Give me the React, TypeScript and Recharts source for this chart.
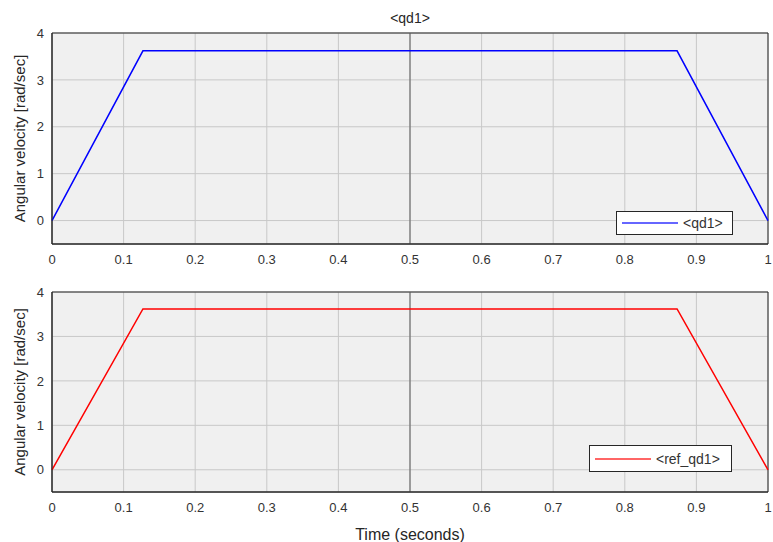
import * as React from 'react';
import {CartesianGrid, Legend, Line, LineChart, ReferenceArea, ReferenceLine, XAxis, YAxis} from 'recharts';

const time = [0, 0.127, 0.873, 1];
const qd1 = [0, 3.62, 3.62, 0];
const refQd1 = [0, 3.62, 3.62, 0];
const xTicks = [0, 0.1, 0.2, 0.3, 0.4, 0.5, 0.6, 0.7, 0.8, 0.9, 1];
const yTicks = [0, 1, 2, 3, 4];

const FONT = '"Liberation Sans", Arial, Helvetica, sans-serif';
const TEXT = '#333333';

const topData = time.map((t, i) => ({t, v: qd1[i]}));
const bottomData = time.map((t, i) => ({t, v: refQd1[i]}));

const fmt = (v: number) => String(Math.round(v * 10) / 10);

const LegendBox = ({name, color, width, height}: {name: string; color: string; width: number; height: number}) => (
    <div
        style={{
            width,
            height,
            boxSizing: 'border-box',
            border: '1px solid #262626',
            background: '#fff',
            display: 'flex',
            alignItems: 'center',
            fontFamily: FONT,
            fontSize: 14,
            color: TEXT,
        }}>
        <div style={{width: 56, height: 2, background: color, opacity: 0.6, marginLeft: 5, marginRight: 5}} />
        <span>{name}</span>
    </div>
);

type PlotProps = {
    data: {t: number; v: number}[];
    color: string;
    name: string;
    height: number;
    top: number;
    xAxisHeight: number;
    legendLeft: number;
    legendTop: number;
    legendWidth: number;
    legendHeight: number;
    xLabel?: string;
};

const Plot = ({
    data,
    color,
    name,
    height,
    top,
    xAxisHeight,
    legendLeft,
    legendTop,
    legendWidth,
    legendHeight,
    xLabel,
}: PlotProps) => (
    <LineChart width={773} height={height} data={data} margin={{top, right: 5, left: 0, bottom: 0}}>
        <CartesianGrid stroke="#c8c8c8" fill="#f0f0f0" fillOpacity={1} strokeWidth={1} />
        <XAxis
            dataKey="t"
            type="number"
            domain={[0, 1]}
            ticks={xTicks}
            tickFormatter={fmt}
            height={xAxisHeight}
            tickLine={false}
            tickMargin={5}
            axisLine={{stroke: '#262626'}}
            tick={{fill: TEXT, fontSize: 13, fontFamily: FONT}}
            label={
                xLabel
                    ? {value: xLabel, position: 'insideBottom', offset: 2, fill: '#262626', fontSize: 16, fontFamily: FONT}
                    : undefined
            }
        />
        <YAxis
            type="number"
            domain={[-0.5, 4]}
            ticks={yTicks}
            width={52}
            tickLine={false}
            axisLine={{stroke: '#262626'}}
            tick={{fill: TEXT, fontSize: 13, fontFamily: FONT}}
            label={{
                value: 'Angular velocity [rad/sec]',
                angle: -90,
                position: 'center',
                dx: -6,
                fill: '#262626',
                fontSize: 15,
                fontFamily: FONT,
            }}
        />
        <ReferenceArea x1={0} x2={1} y1={-0.5} y2={4} fill="none" stroke="#262626" strokeWidth={1} />
        <ReferenceLine x={0.5} stroke="#5a5a5a" strokeWidth={1} />
        <Legend
            layout="vertical"
            align="center"
            verticalAlign="middle"
            wrapperStyle={{left: legendLeft, top: legendTop, width: legendWidth}}
            content={() => <LegendBox name={name} color={color} width={legendWidth} height={legendHeight} />}
        />
        <Line
            dataKey="v"
            name={name}
            stroke={color}
            strokeWidth={1.5}
            dot={false}
            isAnimationActive={false}
        />
    </LineChart>
);

export default function App() {
    return (
        <div style={{position: 'absolute', left: 0, top: 0, width: 773, height: 542, background: '#fff'}}>
            <div
                style={{
                    position: 'absolute',
                    left: 0,
                    width: 820,
                    top: 10,
                    textAlign: 'center',
                    fontFamily: FONT,
                    fontSize: 14,
                    color: '#262626',
                }}>
                {'<qd1>'}
            </div>
            <div style={{position: 'absolute', left: 0, top: 0}}>
                <Plot
                    data={topData}
                    color="#0000ff"
                    name="<qd1>"
                    height={280}
                    top={33}
                    xAxisHeight={36}
                    legendLeft={616}
                    legendTop={211}
                    legendWidth={117}
                    legendHeight={24}
                />
            </div>
            <div style={{position: 'absolute', left: 0, top: 270}}>
                <Plot
                    data={bottomData}
                    color="#ff0000"
                    name="<ref_qd1>"
                    height={272}
                    top={22}
                    xAxisHeight={50}
                    legendLeft={589}
                    legendTop={175}
                    legendWidth={143}
                    legendHeight={27}
                    xLabel="Time (seconds)"
                />
            </div>
        </div>
    );
}
